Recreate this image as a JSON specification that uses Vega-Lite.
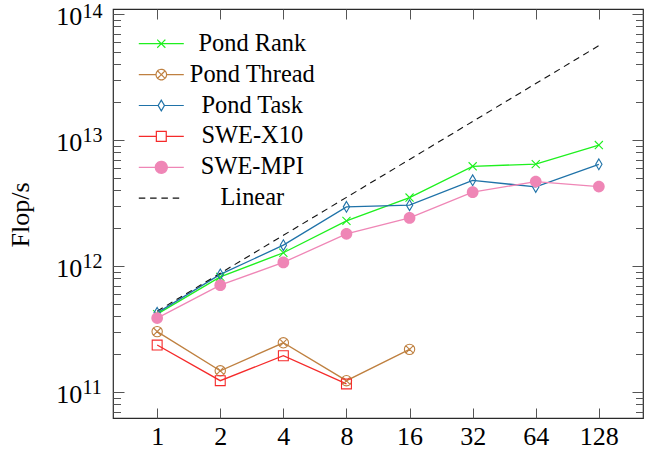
{
  "$schema": "https://vega.github.io/schema/vega-lite/v6.json",
  "width": 530,
  "height": 409,
  "autosize": {"type": "none"},
  "padding": {"left": 113, "top": 9, "right": 7, "bottom": 35},
  "background": "white",
  "config": {
    "view": {"stroke": "#2a2a2a", "strokeWidth": 1.2},
    "font": "Liberation Serif",
    "axis": {"grid": false, "domain": false, "tickColor": "#555555", "tickWidth": 1, "labelColor": "black", "titleColor": "black", "labelFont": "Liberation Serif", "titleFont": "Liberation Serif", "labelFlush": false, "labelOverlap": false, "labelBound": false}
  },
  "datasets": {
    "all": [
      {"n": 1, "series": "Pond Rank", "flops": 4.17e11},
      {"n": 2, "series": "Pond Rank", "flops": 8.24e11},
      {"n": 4, "series": "Pond Rank", "flops": 1.28e12},
      {"n": 8, "series": "Pond Rank", "flops": 2.29e12},
      {"n": 16, "series": "Pond Rank", "flops": 3.51e12},
      {"n": 32, "series": "Pond Rank", "flops": 6.21e12},
      {"n": 64, "series": "Pond Rank", "flops": 6.47e12},
      {"n": 128, "series": "Pond Rank", "flops": 9.16e12},
      {"n": 1, "series": "Pond Thread", "flops": 3.03e11},
      {"n": 2, "series": "Pond Thread", "flops": 1.48e11},
      {"n": 4, "series": "Pond Thread", "flops": 2.47e11},
      {"n": 8, "series": "Pond Thread", "flops": 1.236e11},
      {"n": 16, "series": "Pond Thread", "flops": 2.19e11},
      {"n": 1, "series": "Pond Task", "flops": 4.27e11},
      {"n": 2, "series": "Pond Task", "flops": 8.61e11},
      {"n": 4, "series": "Pond Task", "flops": 1.47e12},
      {"n": 8, "series": "Pond Task", "flops": 2.96e12},
      {"n": 16, "series": "Pond Task", "flops": 3.05e12},
      {"n": 32, "series": "Pond Task", "flops": 4.81e12},
      {"n": 64, "series": "Pond Task", "flops": 4.26e12},
      {"n": 128, "series": "Pond Task", "flops": 6.44e12},
      {"n": 1, "series": "SWE-X10", "flops": 2.37e11},
      {"n": 2, "series": "SWE-X10", "flops": 1.236e11},
      {"n": 4, "series": "SWE-X10", "flops": 1.95e11},
      {"n": 8, "series": "SWE-X10", "flops": 1.164e11},
      {"n": 1, "series": "SWE-MPI", "flops": 3.88e11},
      {"n": 2, "series": "SWE-MPI", "flops": 7.08e11},
      {"n": 4, "series": "SWE-MPI", "flops": 1.072e12},
      {"n": 8, "series": "SWE-MPI", "flops": 1.81e12},
      {"n": 16, "series": "SWE-MPI", "flops": 2.42e12},
      {"n": 32, "series": "SWE-MPI", "flops": 3.87e12},
      {"n": 64, "series": "SWE-MPI", "flops": 4.70e12},
      {"n": 128, "series": "SWE-MPI", "flops": 4.29e12},
      {"n": 1, "series": "Linear", "flops": 4.4e11},
      {"n": 2, "series": "Linear", "flops": 8.8e11},
      {"n": 4, "series": "Linear", "flops": 1.76e12},
      {"n": 8, "series": "Linear", "flops": 3.52e12},
      {"n": 16, "series": "Linear", "flops": 7.04e12},
      {"n": 32, "series": "Linear", "flops": 1.408e13},
      {"n": 64, "series": "Linear", "flops": 2.816e13},
      {"n": 128, "series": "Linear", "flops": 5.632e13}
    ]
  },
  "data": {"name": "all"},
  "resolve": {"axis": {"x": "independent", "y": "independent"}},
  "layer": [
    {
      "transform": [{"filter": "datum.series !== 'Linear'"}],
      "mark": {"type": "line", "strokeWidth": 1.3},
      "encoding": {
        "x": {"field": "n", "type": "quantitative", "scale": {"type": "log", "base": 2, "domain": [0.6156, 207.9], "nice": false},
          "axis": {"orient": "bottom", "values": [1, 2, 4, 8, 16, 32, 64, 128], "format": "d", "tickSize": -10, "labelPadding": 15.8, "labelFontSize": 26, "title": null}},
        "y": {"field": "flops", "type": "quantitative", "scale": {"type": "log", "domain": [6.25e10, 1.1e14], "nice": false},
          "axis": {"orient": "left", "values": [1e11, 1e12, 1e13, 1e14], "labelExpr": "'10'", "tickSize": -11, "labelPadding": 42.3, "labelFontSize": 26, "labelAlign": "right", "labelBaseline": "middle", "labelOffset": 2.2,
            "title": "Flop/s", "titleFontSize": 26, "titleFontWeight": "normal", "titleAngle": 270, "titleX": -85, "titleY": 205.5, "titleBaseline": "alphabetic", "titleAlign": "center"}},
        "color": {"field": "series", "type": "nominal",
          "scale": {"domain": ["Pond Rank", "Pond Thread", "Pond Task", "SWE-X10", "SWE-MPI", "Linear"], "range": ["#1ef01e", "#bf8040", "#1f72a8", "#f52a2a", "#ef86b6", "#111111"]},
          "legend": {"orient": "none", "legendX": 32.3, "legendY": 18.7, "title": null, "labelFont": "Liberation Serif", "labelFontSize": 24.4, "labelColor": "black", "labelAlign": "center", "labelBaseline": "middle", "labelOffset": 75, "labelLimit": 300, "symbolSize": 900, "rowPadding": 2.9, "padding": 0, "symbolStrokeWidth": 1.2,
            "encode": {"symbols": {"update": {
              "shape": {"signal": "datum.value === 'Pond Rank' ? 'M-1.5,0L1.5,0M-0.27,-0.27L0.27,0.27M-0.27,0.27L0.27,-0.27' : datum.value === 'Pond Thread' ? 'M-1.5,0L-0.35,0M0.35,0L1.5,0M-0.35,0A0.35,0.35 0 1,1 0.35,0A0.35,0.35 0 1,1 -0.35,0M-0.24,-0.24L0.24,0.24M-0.24,0.24L0.24,-0.24' : datum.value === 'Pond Task' ? 'M-1.5,0L-0.21,0M0.21,0L1.5,0M0,-0.36L0.21,0L0,0.36L-0.21,0Z' : datum.value === 'SWE-X10' ? 'M-1.5,0L-0.33,0M0.33,0L1.5,0M-0.33,-0.33L0.33,-0.33L0.33,0.33L-0.33,0.33Z' : datum.value === 'SWE-MPI' ? 'M-1.5,0L1.5,0M-0.4,0A0.4,0.4 0 1,1 0.4,0A0.4,0.4 0 1,1 -0.4,0Z' : 'M-1.5,0L1.5,0'"},
              "fill": {"signal": "datum.value === 'SWE-MPI' ? '#ef86b6' : 'transparent'"},
              "strokeDash": {"signal": "datum.value === 'Linear' ? [6.5, 4.8] : [1, 0]"},
              "strokeWidth": {"value": 1.2},
              "opacity": {"value": 1}
            }}}}
        },
        "order": {"field": "n", "type": "quantitative"}
      }
    },
    {
      "transform": [{"filter": "datum.series === 'Linear'"}],
      "mark": {"type": "line", "strokeWidth": 1.1, "strokeDash": [6.5, 4.8]},
      "encoding": {
        "x": {"field": "n", "type": "quantitative", "scale": {"type": "log", "base": 2, "domain": [0.6156, 207.9], "nice": false},
          "axis": {"orient": "top", "values": [1, 2, 4, 8, 16, 32, 64, 128], "tickSize": -10, "labels": false, "title": null}},
        "y": {"field": "flops", "type": "quantitative", "scale": {"type": "log", "domain": [6.25e10, 1.1e14], "nice": false},
          "axis": {"orient": "left", "values": [7e10, 8e10, 9e10, 1e11, 2e11, 3e11, 4e11, 5e11, 6e11, 7e11, 8e11, 9e11, 1e12, 2e12, 3e12, 4e12, 5e12, 6e12, 7e12, 8e12, 9e12, 1e13, 2e13, 3e13, 4e13, 5e13, 6e13, 7e13, 8e13, 9e13, 1e14],
            "tickSize": -7.5, "labelExpr": "abs(log(datum.value)/LN10 - round(log(datum.value)/LN10)) < 0.001 ? format(round(log(datum.value)/LN10), 'd') : ''",
            "labelAlign": "left", "labelBaseline": "alphabetic", "labelPadding": 38.5, "labelFontSize": 20,
            "labelOffset": {"condition": {"test": "datum.value > 5e13", "value": 3.5}, "value": 1}, "title": null}},
        "color": {"field": "series", "type": "nominal",
          "scale": {"domain": ["Pond Rank", "Pond Thread", "Pond Task", "SWE-X10", "SWE-MPI", "Linear"], "range": ["#1ef01e", "#bf8040", "#1f72a8", "#f52a2a", "#ef86b6", "#111111"]}, "legend": null},
        "order": {"field": "n", "type": "quantitative"}
      }
    },
    {
      "transform": [{"filter": "datum.series !== 'Linear' && datum.series !== 'SWE-MPI'"}],
      "mark": {"type": "point", "filled": false, "size": 81, "strokeWidth": 1.1, "opacity": 1},
      "encoding": {
        "x": {"field": "n", "type": "quantitative", "scale": {"type": "log", "base": 2, "domain": [0.6156, 207.9], "nice": false}, "axis": null},
        "y": {"field": "flops", "type": "quantitative", "scale": {"type": "log", "domain": [6.25e10, 1.1e14], "nice": false},
          "axis": {"orient": "right", "values": [1e11, 1e12, 1e13, 1e14], "tickSize": -11, "labels": false, "title": null}},
        "color": {"field": "series", "type": "nominal",
          "scale": {"domain": ["Pond Rank", "Pond Thread", "Pond Task", "SWE-X10", "SWE-MPI", "Linear"], "range": ["#1ef01e", "#bf8040", "#1f72a8", "#f52a2a", "#ef86b6", "#111111"]}, "legend": null},
        "shape": {"field": "series", "type": "nominal",
          "scale": {"domain": ["Pond Rank", "Pond Thread", "Pond Task", "SWE-X10"], "range": ["M-0.9,-0.9L0.9,0.9M-0.9,0.9L0.9,-0.9", "M-1.15,0A1.15,1.15 0 1,1 1.15,0A1.15,1.15 0 1,1 -1.15,0ZM-0.8,-0.8L0.8,0.8M-0.8,0.8L0.8,-0.8", "M0,-1.2L0.7,0L0,1.2L-0.7,0Z", "M-1.1,-1.1L1.1,-1.1L1.1,1.1L-1.1,1.1Z"]}, "legend": null}
      }
    },
    {
      "transform": [{"filter": "datum.series === 'SWE-MPI'"}],
      "mark": {"type": "point", "filled": true, "size": 81, "opacity": 1, "color": "#ef86b6", "shape": "M-1.3,0A1.3,1.3 0 1,1 1.3,0A1.3,1.3 0 1,1 -1.3,0Z"},
      "encoding": {
        "x": {"field": "n", "type": "quantitative", "scale": {"type": "log", "base": 2, "domain": [0.6156, 207.9], "nice": false}, "axis": null},
        "y": {"field": "flops", "type": "quantitative", "scale": {"type": "log", "domain": [6.25e10, 1.1e14], "nice": false},
          "axis": {"orient": "right", "values": [7e10, 8e10, 9e10, 1e11, 2e11, 3e11, 4e11, 5e11, 6e11, 7e11, 8e11, 9e11, 1e12, 2e12, 3e12, 4e12, 5e12, 6e12, 7e12, 8e12, 9e12, 1e13, 2e13, 3e13, 4e13, 5e13, 6e13, 7e13, 8e13, 9e13, 1e14], "tickSize": -7.5, "labels": false, "title": null}}
      }
    }
  ]
}
